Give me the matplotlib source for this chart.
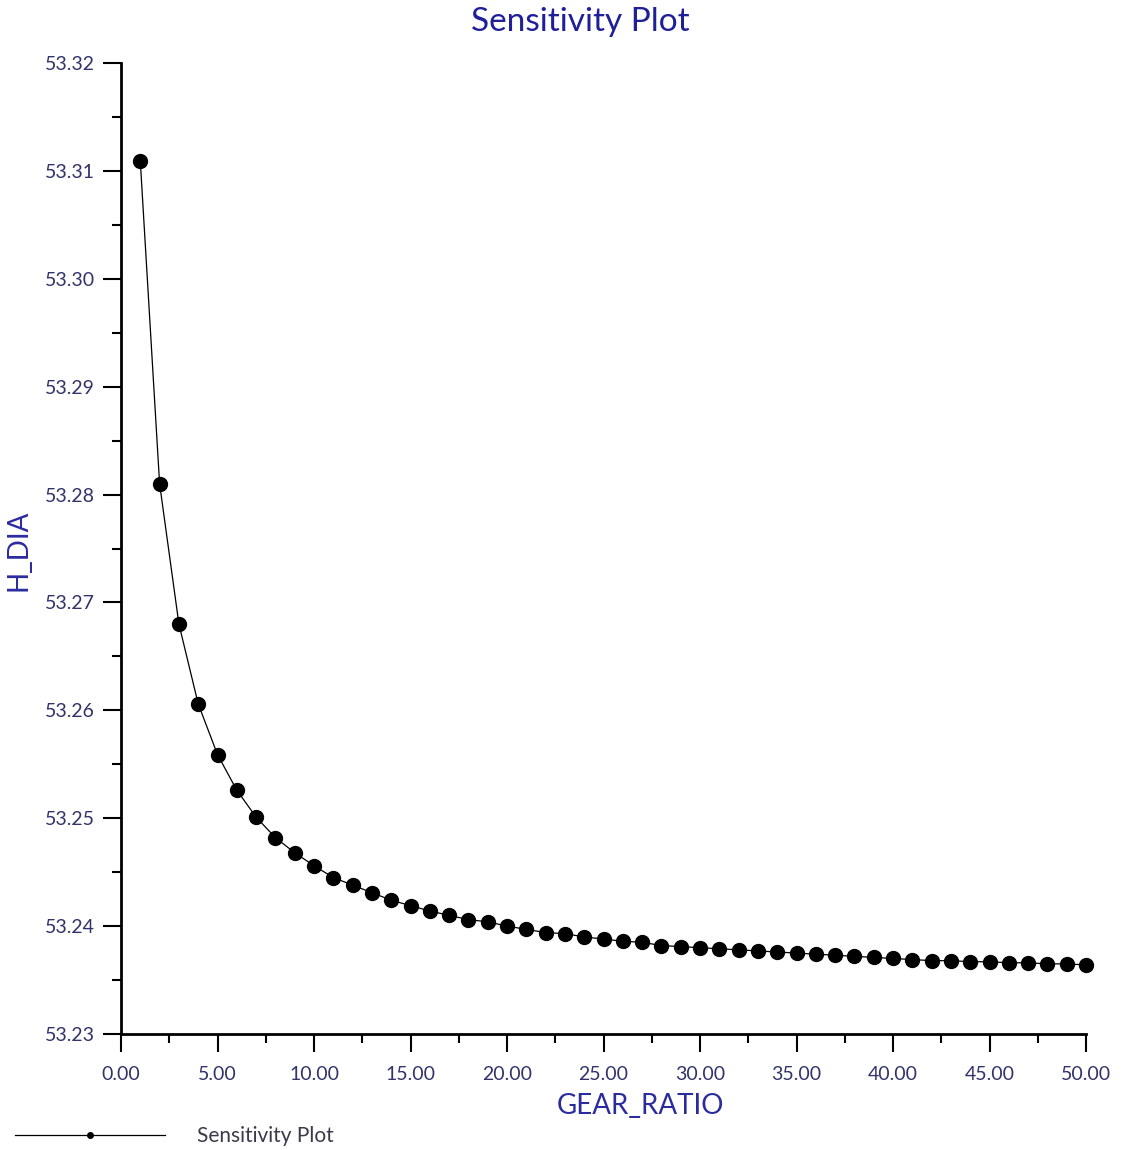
import matplotlib
matplotlib.use('agg')
import numpy as np
import matplotlib.pyplot as plt
from matplotlib.lines import Line2D
from matplotlib.ticker import MultipleLocator, FormatStrFormatter

# data
gear_ratio = list(range(1, 51))
h_dia = [
    53.3109, 53.2810, 53.2680, 53.2606, 53.2559, 53.2526, 53.2501, 53.2482,
    53.2468, 53.2456, 53.2445, 53.2438, 53.2431, 53.2424, 53.2419, 53.2414,
    53.2410, 53.2406, 53.2404, 53.2400, 53.2397, 53.2394, 53.2393, 53.2390,
    53.2388, 53.2386, 53.2385, 53.2382, 53.2381, 53.2380, 53.2379, 53.2378,
    53.2377, 53.2376, 53.2375, 53.2374, 53.2373, 53.2372, 53.2371, 53.2370,
    53.2369, 53.2368, 53.2368, 53.2367, 53.2367, 53.2366, 53.2366, 53.2365,
    53.2365, 53.2364,
]
title = 'Sensitivity Plot'
x_label = 'GEAR_RATIO'
y_label = 'H_DIA'

plt.rcParams['font.family'] = ['Lato', 'DejaVu Sans']

# colours
title_col = '#1f1f99'
label_col = '#2b2ba0'
tick_col = '#33336b'

fig = plt.figure(figsize=(11.44, 11.5), dpi=100)
ax = fig.add_axes([121 / 1144, 1 - 1034 / 1150, (1086 - 121) / 1144, (1034 - 63) / 1150])

ax.plot(gear_ratio, h_dia, color='black', lw=0.9, marker='o', ms=10,
        mfc='black', mec='black', clip_on=False)

ax.set_xlim(0, 50)
ax.set_ylim(53.23, 53.32)
ax.xaxis.set_major_locator(MultipleLocator(5))
ax.xaxis.set_minor_locator(MultipleLocator(2.5))
ax.yaxis.set_major_locator(MultipleLocator(0.01))
ax.yaxis.set_minor_locator(MultipleLocator(0.005))
ax.xaxis.set_major_formatter(FormatStrFormatter('%.2f'))
ax.yaxis.set_major_formatter(FormatStrFormatter('%.2f'))

for side in ['top', 'right']:
    ax.spines[side].set_visible(False)
for side in ['left', 'bottom']:
    ax.spines[side].set_linewidth(2)

ax.tick_params(which='major', direction='out', length=13, width=1.5,
               labelsize=14, labelcolor=tick_col)
ax.tick_params(axis='x', which='major', pad=10)
ax.tick_params(axis='y', which='major', pad=6)
ax.tick_params(which='minor', direction='out', length=6.5, width=1.5)

ax.set_xlabel(x_label, fontsize=20, color=label_col)
ax.xaxis.set_label_coords(0.538, -0.061)
ax.set_ylabel(y_label, fontsize=20, color=label_col)
ax.yaxis.set_label_coords(-0.093, 0.498)
fig.text(580 / 1144, 1 - 22 / 1150, title, fontsize=24, color=title_col,
         ha='center', va='center')

# legend in the bottom-left corner
handle = Line2D([], [], color='black', lw=0.9, marker='o', ms=4)
ax.legend([handle], [title], loc='center left',
          bbox_to_anchor=(15 / 1144, 1 - 1136 / 1150),
          bbox_transform=fig.transFigure, frameon=False, borderpad=0,
          borderaxespad=0, handlelength=7.2, handletextpad=1.55,
          prop={'size': 15}, labelcolor='#3a3a4a')

fig.savefig('out.png', dpi=100)
